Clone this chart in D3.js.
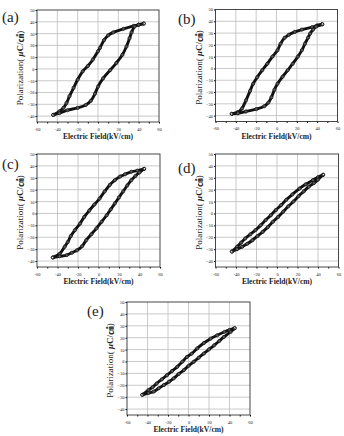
<!DOCTYPE html>
<html>
<head>
<meta charset="utf-8">
<script src="https://cdn.jsdelivr.net/npm/d3@7"></script>
<style>
  body { margin: 0; background: #fff; }
  svg { display: block; }
</style>
</head>
<body>
<div id="chart"></div>
<script>
// Panel labels and axis ticks
const panelNames = ["(a)", "(b)", "(c)", "(d)", "(e)"];
const xTicks = [-60, -40, -20, 0, 20, 40, 60];
const yTicks = [-40, -30, -20, -10, 0, 10, 20, 30, 40, 50];

// Loop branches: [E (kV/cm), P (uC/cm2)]
// upper = field going down from +Emax, lower = field going up from -Emax
const upperA = [[45,38.5],[40,37.5],[35,36.5],[25,34],[15,31],[10,28.5],[6,24.5],[2,18],[0,15],[-5,8],[-10,2.5],[-15,-2],[-20,-9],[-24,-16],[-28,-23],[-31,-29],[-34,-33],[-38,-36],[-44,-39]];
const lowerA = [[-44,-39],[-38,-37.5],[-30,-35],[-20,-33],[-12,-30.5],[-7,-27],[-3,-21],[0,-15],[5,-8],[12,-1],[18,5],[24,12],[28,19],[31,26],[33,31],[36,36],[40,37.5],[45,38.5]];

const upperB = [[45,37.5],[40,36.5],[35,35],[25,33],[18,31],[12,28.5],[8,26],[4,21],[1,15.5],[-4,10],[-9,4],[-14,-1.5],[-19,-7.5],[-23,-13],[-26,-19],[-30,-27],[-34,-34],[-38,-37],[-44,-38.5]];
const lowerB = [[-44,-38.5],[-38,-38],[-30,-36.5],[-20,-34.5],[-12,-32],[-8,-29],[-5,-24.5],[-2,-18],[1,-13],[6,-7],[11,-1.5],[16,4],[21,10],[25,15.5],[28,21],[31,26],[33,29.5],[36,33],[39,35.5],[45,37.5]];

const upperC = [[44.5,37.5],[38,36],[32,35],[26,33],[21,31],[16,28],[11,24],[6,18.5],[1,12.5],[-4,7.5],[-9,2.5],[-14,-3],[-18,-8.5],[-23,-14],[-27,-19],[-30,-24],[-33,-28],[-38,-34],[-44.5,-37]];
const lowerC = [[-44.5,-37],[-38,-36],[-31,-35],[-26,-33],[-21,-31],[-16,-27.5],[-12,-22.5],[-7,-17.5],[-2,-12.5],[3,-7],[8,-1.5],[12,3.5],[16,8.5],[20,13.5],[24,18.5],[28,23.5],[32,28],[36,31.5],[40,34.5],[44.5,37.5]];

const upperD = [[45,32.5],[40,30.5],[35,28],[28,24.5],[22,21],[15,16],[9,11.5],[4,7],[-1,3],[-6,-1.5],[-11,-5.5],[-16,-10],[-21,-14],[-26,-17.5],[-31,-21],[-35,-24.5],[-39,-28],[-44,-32]];
const lowerD = [[-44,-32],[-39,-30],[-34,-28],[-29,-25.5],[-24,-22.5],[-19,-19],[-14,-15.5],[-9,-11.5],[-4,-7],[1,-3],[6,1.5],[11,6],[16,10],[21,14.5],[26,18.5],[31,22.5],[36,25.5],[40,28.5],[45,32.5]];

const upperE = [[45,28],[40,26.5],[35,24.8],[28,22],[21.5,19.2],[15,15.5],[8.5,11],[3,6.5],[-1.5,3.8],[-6,-0.2],[-11,-4.5],[-16,-8],[-21,-11.5],[-26,-15],[-31,-18.5],[-35,-21.5],[-39,-24],[-45,-28]];
const lowerE = [[-45,-28],[-39,-26.5],[-34,-25.3],[-29,-22.5],[-24,-19.8],[-19,-17],[-14.5,-14.2],[-9.5,-10.5],[-4.5,-7.2],[0,-3.7],[5,-0.3],[10,3.2],[15,6.7],[20,10.2],[25,13.6],[30,17.2],[34.5,20.6],[41,24.8],[45,28]];

const upperSets = [upperA, upperB, upperC, upperD, upperE];
const lowerSets = [lowerA, lowerB, lowerC, lowerD, lowerE];

const W = 344, H = 436;
const svg = d3.select("#chart")
    .append("svg")
        .attr("width", W)
        .attr("height", H)
        .attr("viewBox", `0 0 ${W} ${H}`);

// frame position of each panel on the page
const frames = [
    {x: 37,    y: 10,  w: 122, h: 112, lx: 2,   ly: 22},
    {x: 215.5, y: 9.5, w: 122, h: 112, lx: 178, ly: 24},
    {x: 37,    y: 154, w: 123, h: 113, lx: 2,   ly: 169},
    {x: 215.5, y: 154, w: 123, h: 113, lx: 178, ly: 173},
    {x: 127,   y: 302, w: 123, h: 113, lx: 87,  ly: 316}
];

const serif = "'Liberation Serif', 'DejaVu Serif', serif";

const drawPanel = (i) => {
    const f = frames[i];

    const xScale = d3.scaleLinear()
        .domain([-60, 60])
        .range([f.x, f.x + f.w]);

    const yScale = d3.scaleLinear()
        .domain([-45, 50])
        .range([f.y + f.h, f.y]);

    const g = svg.append("g");

    // grid
    g.selectAll(".vgrid")
        .data(xTicks.slice(1, -1))
        .join("line")
            .attr("x1", d => xScale(d))
            .attr("x2", d => xScale(d))
            .attr("y1", f.y)
            .attr("y2", f.y + f.h)
            .attr("stroke", "#bdbdbd")
            .attr("stroke-width", 0.8);

    g.selectAll(".hgrid")
        .data(yTicks.slice(0, -1))
        .join("line")
            .attr("x1", f.x)
            .attr("x2", f.x + f.w)
            .attr("y1", d => yScale(d))
            .attr("y2", d => yScale(d))
            .attr("stroke", "#bdbdbd")
            .attr("stroke-width", 0.8);

    // axes
    const xAxis = d3.axisBottom(xScale)
        .tickValues(d3.range(-60, 61, 10))
        .tickSize(1.5)
        .tickFormat(d => xTicks.includes(d) ? d : "");

    g.append("g")
        .attr("transform", `translate(0, ${f.y + f.h})`)
        .call(xAxis)
        .call(a => a.select(".domain").remove())
        .call(a => a.selectAll("text")
            .attr("dy", "0.9em")
            .style("font-family", serif)
            .style("font-size", "4.5px")
            .style("fill", "#222"));

    const yAxis = d3.axisLeft(yScale)
        .tickValues(yTicks)
        .tickSize(1.5);

    g.append("g")
        .attr("transform", `translate(${f.x}, 0)`)
        .call(yAxis)
        .call(a => a.select(".domain").remove())
        .call(a => a.selectAll("text")
            .attr("x", -2.5)
            .style("font-family", serif)
            .style("font-size", "4.5px")
            .style("fill", "#222"));

    g.append("rect")
        .attr("x", f.x)
        .attr("y", f.y)
        .attr("width", f.w)
        .attr("height", f.h)
        .attr("fill", "none")
        .attr("stroke", "#333")
        .attr("stroke-width", 0.9);

    // hysteresis loop
    const line = d3.line()
        .x(d => xScale(d[0]))
        .y(d => yScale(d[1]))
        .curve(d3.curveCatmullRom);

    [upperSets[i], lowerSets[i]].forEach(branch => {
        g.append("path")
            .datum(branch)
            .attr("d", line)
            .attr("fill", "none")
            .attr("stroke", "#111")
            .attr("stroke-width", 2.9);

        g.selectAll(null)
            .data(branch)
            .join("circle")
                .attr("cx", d => xScale(d[0]))
                .attr("cy", d => yScale(d[1]))
                .attr("r", 1.6)
                .attr("fill", "#fff")
                .attr("fill-opacity", 0.3)
                .attr("stroke", "#111")
                .attr("stroke-width", 0.8);
    });

    // axis titles
    g.append("text")
        .text("Electric Field(kV/cm)")
        .attr("x", f.x + f.w / 2)
        .attr("y", f.y + f.h + 17)
        .attr("text-anchor", "middle")
        .style("font-family", serif)
        .style("font-size", "7.6px")
        .style("font-weight", "bold")
        .style("fill", "#222");

    const yt = g.append("text")
        .attr("transform", `translate(${f.x - 14}, ${f.y + f.h / 2 + 2}) rotate(-90)`)
        .attr("text-anchor", "middle")
        .style("font-family", serif)
        .style("font-size", "9px")
        .style("fill", "#222");
    yt.append("tspan").text("Polarization( ");
    yt.append("tspan")
        .style("font-weight", "bold")
        .style("font-style", "italic")
        .text("μ");
    yt.append("tspan")
        .style("font-weight", "bold")
        .text("C/");
    yt.append("tspan")
        .style("font-weight", "bold")
        .style("font-family", "'Noto Sans CJK JP', serif")
        .style("font-size", "8.5px")
        .text("㎠");
    yt.append("tspan").text(")");

    // panel label
    svg.append("text")
        .text(panelNames[i])
        .attr("x", f.lx)
        .attr("y", f.ly)
        .style("font-family", serif)
        .style("font-size", "15px")
        .style("fill", "#222");
};

panelNames.forEach((d, i) => drawPanel(i));
</script>
</body>
</html>
